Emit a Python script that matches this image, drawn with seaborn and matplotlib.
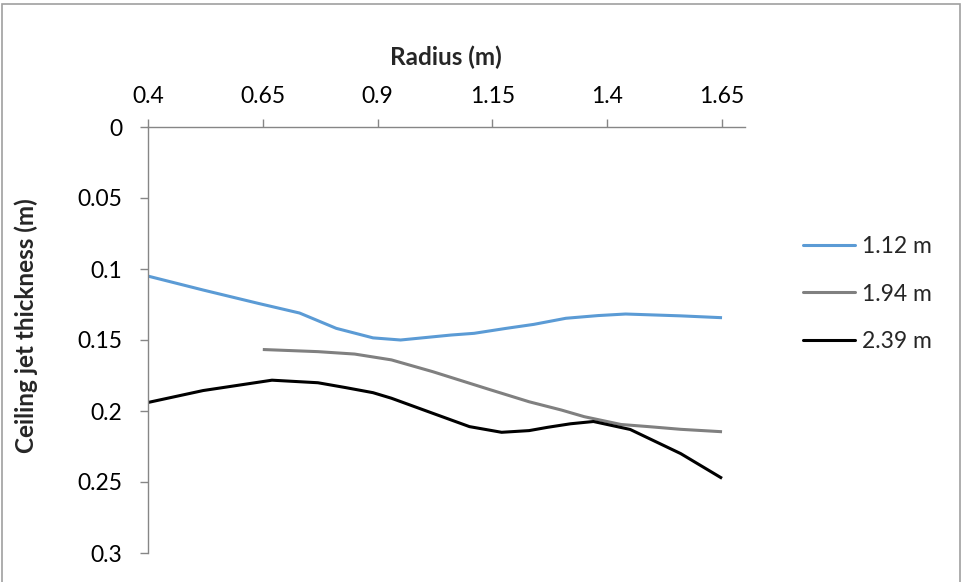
import matplotlib
matplotlib.use("Agg")
import matplotlib.pyplot as plt
import seaborn as sns
import pandas as pd
from matplotlib.patches import Rectangle
from matplotlib.lines import Line2D

# ---- data ----
radius_112 = [0.40, 0.52, 0.64, 0.73, 0.81, 0.89, 0.95, 1.06, 1.11, 1.18, 1.24, 1.31, 1.38, 1.44, 1.56, 1.65]
thick_112 = [0.105, 0.1148, 0.1242, 0.131, 0.1418, 0.1485, 0.150, 0.1465, 0.1453, 0.1418, 0.139, 0.1347, 0.1328, 0.1317, 0.1330, 0.1343]

radius_194 = [0.65, 0.77, 0.85, 0.93, 1.02, 1.14, 1.23, 1.30, 1.35, 1.43, 1.49, 1.56, 1.65]
thick_194 = [0.1567, 0.1582, 0.1599, 0.1640, 0.1723, 0.1845, 0.1935, 0.1993, 0.2040, 0.2095, 0.2110, 0.2129, 0.2146]

radius_239 = [0.40, 0.52, 0.67, 0.77, 0.83, 0.89, 0.93, 1.02, 1.10, 1.17, 1.23, 1.27, 1.32, 1.37, 1.45, 1.56, 1.65]
thick_239 = [0.194, 0.1856, 0.1783, 0.1801, 0.1835, 0.1871, 0.191, 0.2016, 0.211, 0.215, 0.2138, 0.2115, 0.209, 0.2074, 0.213, 0.230, 0.2474]

series_names = ["1.12 m", "1.94 m", "2.39 m"]
series_colors = ["#5B9BD5", "#808080", "#000000"]

x_ticks = [0.4, 0.65, 0.9, 1.15, 1.4, 1.65]
x_tick_labels = ["0.4", "0.65", "0.9", "1.15", "1.4", "1.65"]
y_ticks = [0, 0.05, 0.1, 0.15, 0.2, 0.25, 0.3]
y_tick_labels = ["0", "0.05", "0.1", "0.15", "0.2", "0.25", "0.3"]

x_title = "Radius (m)"
y_title = "Ceiling jet thickness (m)"

# ---- build long table ----
frames = []
for name, xs, ys in zip(series_names,
                        [radius_112, radius_194, radius_239],
                        [thick_112, thick_194, thick_239]):
    frames.append(pd.DataFrame({"Radius": xs, "Thickness": ys, "Series": name}))
df = pd.concat(frames, ignore_index=True)

sns.set_theme(style="white")
plt.rcParams["font.family"] = ["Lato", "DejaVu Sans"]

W, H = 962, 582
fig = plt.figure(figsize=(W / 100, H / 100), dpi=100)
ax = fig.add_axes([148 / W, 1 - 553 / H, (745 - 148) / W, (553 - 127) / H])

palette = dict(zip(series_names, series_colors))
sns.lineplot(data=df, x="Radius", y="Thickness", hue="Series", palette=palette,
             sort=False, estimator=None, linewidth=2.2, ax=ax, legend=False,
             solid_joinstyle="round", solid_capstyle="butt")

ax.set_xlim(0.4, 1.7)
ax.set_ylim(0.3, 0)
ax.xaxis.tick_top()
ax.set_xticks(x_ticks)
ax.set_xticklabels(x_tick_labels)
ax.set_yticks(y_ticks)
ax.set_yticklabels(y_tick_labels)
ax.set_xlabel("")
ax.set_ylabel("")

spine_color = "#868686"
for s in ["bottom", "right"]:
    ax.spines[s].set_visible(False)
for s in ["top", "left"]:
    ax.spines[s].set_visible(True)
    ax.spines[s].set_color(spine_color)
    ax.spines[s].set_linewidth(1.0)

ax.tick_params(axis="x", which="major", top=True, bottom=False, direction="out",
               length=6, width=1.0, color=spine_color, labelsize=16.5, pad=8.5,
               labelcolor="black")
ax.tick_params(axis="y", which="major", left=True, direction="out",
               length=6, width=1.0, color=spine_color, labelsize=16.5, pad=12.5,
               labelcolor="black")
ax.grid(False)

fig.text(446 / W, 1 - 57 / H, x_title, ha="center", va="center",
         fontsize=17.5, fontweight="bold")
fig.text(26 / W, 1 - 326 / H, y_title, ha="center", va="center",
         rotation=90, fontsize=17.5, fontweight="bold")

handles = [Line2D([0], [0], color=c, lw=2.2) for c in series_colors]
ax.legend(handles, series_names, loc="upper left",
          bbox_to_anchor=(794 / W, 1 - 227 / H), bbox_transform=fig.transFigure,
          frameon=False, fontsize=16.5, handlelength=2.27, handletextpad=0.3,
          labelspacing=1.15, borderaxespad=0)

fig.patches.append(Rectangle((1.5 / W, -0.05), (960 - 1.5) / W, 1.05 - 4 / H,
                             transform=fig.transFigure, fill=False,
                             edgecolor="#A0A0A0", linewidth=1.2))

fig.savefig("out.png", dpi=100, facecolor="white")
